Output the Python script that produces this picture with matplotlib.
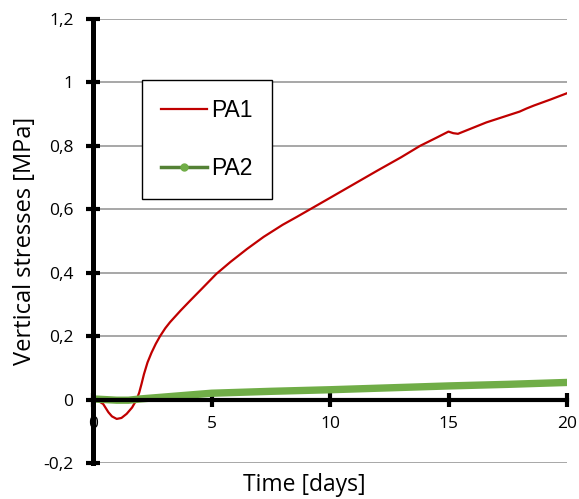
import matplotlib
matplotlib.use("Agg")
import matplotlib.pyplot as plt
from matplotlib.lines import Line2D
from matplotlib.ticker import FuncFormatter

# PA1 olcumleri (gun, MPa)
pa1_t = [0, 0.2, 0.43, 0.65, 0.8, 1.0, 1.2, 1.42, 1.65, 1.84, 1.95, 2.05, 2.15,
         2.3, 2.47, 2.65, 2.83, 3.05, 3.25, 3.7, 4.1, 4.6, 5.2, 5.8, 6.5, 7.2,
         8.0, 8.6, 9.16, 10, 11, 12, 13, 13.8, 14.5, 15.0, 15.2, 15.4, 16, 16.6,
         17.3, 18.0, 18.3, 18.6, 19.3, 20]
pa1_v = [0, -0.003, -0.014, -0.04, -0.053, -0.061, -0.058, -0.045, -0.025, 0.0,
         0.022, 0.05, 0.08, 0.117, 0.148, 0.176, 0.2, 0.225, 0.244, 0.281,
         0.312, 0.35, 0.396, 0.434, 0.475, 0.513, 0.551, 0.576, 0.6, 0.636,
         0.679, 0.722, 0.764, 0.8, 0.826, 0.845, 0.84, 0.838, 0.856, 0.874,
         0.891, 0.908, 0.918, 0.927, 0.946, 0.966]

# PA2 olcumleri
pa2_t = [0, 0.5, 1, 1.5, 2, 3, 5, 7.5, 10, 12.5, 15, 17.5, 20]
pa2_v = [0.002, 0.0, -0.002, -0.002, 0.002, 0.008, 0.02, 0.026, 0.031, 0.037,
         0.043, 0.048, 0.054]

x_ticks = [0, 5, 10, 15, 20]
y_ticks = [-0.2, 0, 0.2, 0.4, 0.6, 0.8, 1.0, 1.2]

plt.rcParams['font.family'] = ['Open Sans', 'DejaVu Sans']

fig = plt.figure(figsize=(5.79, 4.99), dpi=100)
ax = fig.add_axes([93/579, 36/499, 474/579, 444/499])

ax.plot(pa1_t, pa1_v, color="#C00000", lw=1.6, zorder=3)
ax.plot(pa2_t, pa2_v, color="#70AD47", lw=5.3, solid_capstyle="round", zorder=4)

ax.set_xlim(0, 20)
ax.set_ylim(-0.2, 1.2)
ax.set_xticks(x_ticks)
ax.set_yticks(y_ticks)

# virgullu ondalik
fmt = FuncFormatter(lambda v, p: ("%g" % round(v, 1)).replace(".", ","))
ax.yaxis.set_major_formatter(fmt)

ax.grid(axis="y", color="#A0A0A0", lw=1.3)
ax.set_axisbelow(True)

for s in ["top", "right"]:
    ax.spines[s].set_visible(False)
ax.spines["bottom"].set_position(("data", 0))
ax.spines["left"].set_linewidth(3.6)
ax.spines["bottom"].set_linewidth(3.0)
ax.spines["left"].set_zorder(5)
ax.spines["bottom"].set_zorder(5)

ax.tick_params(axis="both", direction="inout", length=10, width=3, labelsize=12.5,
               colors="black")
ax.tick_params(axis="y", pad=9)
ax.tick_params(axis="x", pad=7)

ax.set_xlabel("Time [days]", fontsize=16.5, va="center")
ax.xaxis.set_label_coords(0.446, -0.049)
ax.set_ylabel("Vertical stresses [MPa]", fontsize=17, va="center")
ax.yaxis.set_label_coords(-0.1435, 0.5)

handles = [Line2D([], [], color="#C00000", lw=1.6),
           Line2D([], [], color="#548235", lw=2.5, marker="o", markersize=5,
                  markerfacecolor="#70AD47", markeredgecolor="#70AD47")]
leg = ax.legend(handles, ["PA1", "PA2"], loc="upper left",
                bbox_to_anchor=(0.103, 0.8626), borderaxespad=0,
                prop={"family": "Liberation Sans", "size": 16.5},
                handlelength=2.0, handletextpad=0.17, labelspacing=1.5,
                borderpad=0.85, fancybox=False, framealpha=1, edgecolor="black")
leg.get_frame().set_linewidth(1.0)

fig.savefig("out.png", dpi=100)
